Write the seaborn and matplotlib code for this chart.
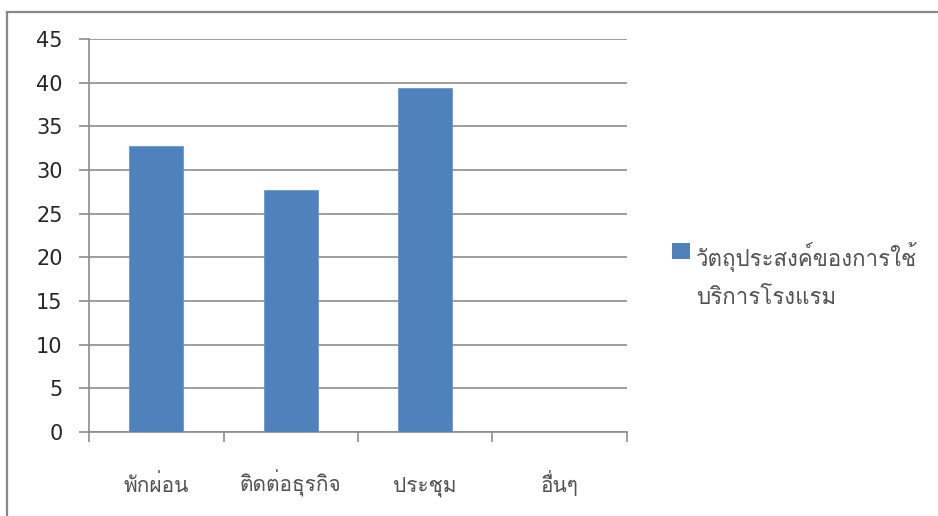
import matplotlib
matplotlib.use("Agg")
import matplotlib.pyplot as plt
from matplotlib.patches import Rectangle
from matplotlib.legend_handler import HandlerPatch
import seaborn as sns
import pandas as pd

categories = ["พักผ่อน", "ติดต่อธุรกิจ", "ประชุม", "อื่นๆ"]
values = [32.7, 27.7, 39.4, 0.0]
series_name = "วัตถุประสงค์ของการใช้\nบริการโรงแรม"
y_ticks = [0, 5, 10, 15, 20, 25, 30, 35, 40, 45]

sns.set_theme(style="white")
plt.rcParams["font.family"] = ["DejaVu Sans"]

BLUE = "#4F81BD"
GRID = "#8c8c8c"
TEXT = "#525252"
THAI = ["Loma", "DejaVu Sans"]

df = pd.DataFrame({"category": categories, "value": values})

fig = plt.figure(figsize=(9.38, 5.16), dpi=100)
ax = fig.add_axes([0.0949, 0.1628, 0.5735, 0.7616])

sns.barplot(data=df, x="category", y="value", color=BLUE, width=0.4,
            saturation=1, edgecolor="#6a98cf", linewidth=0.6, ax=ax, zorder=3)

ax.set_ylim(0, 45)
ax.set_xlim(-0.5, len(categories) - 0.5)
ax.set_yticks(y_ticks)
ax.yaxis.grid(True, color=GRID, linewidth=1.2, zorder=0)
ax.set_axisbelow(True)
ax.set_xlabel("")
ax.set_ylabel("")

for side in ("top", "right"):
    ax.spines[side].set_visible(False)
for side in ("left", "bottom"):
    ax.spines[side].set_color(GRID)
    ax.spines[side].set_linewidth(1.2)

ax.tick_params(axis="y", which="major", direction="out", length=7, width=1.2,
               color=GRID, labelsize=15, labelcolor="#262626", pad=12, left=True)
ax.set_xticks([i - 0.5 for i in range(len(categories) + 1)], minor=True)
ax.tick_params(axis="x", which="minor", direction="out", length=7, width=1.2,
               color=GRID, bottom=True)
ax.tick_params(axis="x", which="major", length=0, pad=43, labelcolor=TEXT, bottom=True)
for lbl in ax.get_xticklabels():
    lbl.set_fontfamily(THAI)
    lbl.set_fontsize(15)
    lbl.set_verticalalignment("baseline")


# legend swatch sits beside the first line of the two-line label
def first_line_patch(legend, orig_handle, xdescent, ydescent, width, height, fontsize):
    return Rectangle((-xdescent, -ydescent + 1.1 * fontsize), width, height)


handle = Rectangle((0, 0), 1, 1, facecolor=BLUE, edgecolor="none")
leg = ax.legend([handle], [series_name], loc="upper left",
                bbox_to_anchor=(0.695, 0.570), bbox_transform=fig.transFigure,
                frameon=False, handlelength=0.8, handleheight=0.78,
                handletextpad=0.3, prop={"family": THAI, "size": 16},
                handler_map={Rectangle: HandlerPatch(patch_func=first_line_patch)})
for t in leg.get_texts():
    t.set_color(TEXT)
    t.set_linespacing(1.98)

# outer chart-area border
fig.patches.append(Rectangle((7 / 938, -0.05), 1.2, 1 - 12 / 516 + 0.05,
                             transform=fig.transFigure, fill=False,
                             edgecolor="#888888", linewidth=1.6, zorder=0))

fig.savefig("out.png", dpi=100)
